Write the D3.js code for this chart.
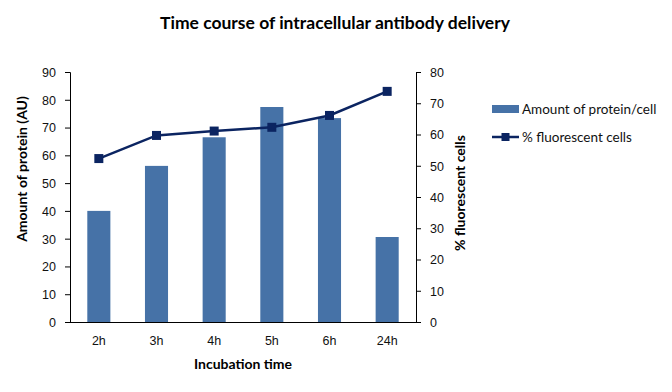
<!DOCTYPE html>
<html>
<head>
<meta charset="utf-8">
<script src="https://cdn.jsdelivr.net/npm/d3@7"></script>
<style>
  body { margin: 0; background: #fff; }
  svg { display: block; font-family: Lato, "Open Sans", sans-serif; }
  .axis path, .axis line { stroke: #000; }
  .axis text { fill: #111; font-size: 12.5px; }
</style>
</head>
<body>
<svg id="chart" width="672" height="392"></svg>
<script>
const categories = ["2h", "3h", "4h", "5h", "6h", "24h"];
const proteinAmount = [40, 56.2, 66.5, 77.4, 73.4, 30.6];
const fluorescentPct = [52.3, 59.7, 61.1, 62.3, 66.1, 73.8];
const leftTicks = [0, 10, 20, 30, 40, 50, 60, 70, 80, 90];
const rightTicks = [0, 10, 20, 30, 40, 50, 60, 70, 80];

const width = 672;
const height = 392;
const plot = { left: 70, right: 416, top: 72, bottom: 322 };
const barColor = "#4672a7";
const lineColor = "#0b2461";

const chart = d3.select("#chart");

const xScale = d3
  .scaleBand()
  .domain(categories)
  .range([plot.left, plot.right])
  .paddingInner(0.6)
  .paddingOuter(0.3);

const yLeft = d3.scaleLinear().domain([0, 90]).range([plot.bottom, plot.top]);
const yRight = d3.scaleLinear().domain([0, 80]).range([plot.bottom, plot.top]);

// bars
chart
  .selectAll("rect.bar")
  .data(proteinAmount)
  .enter()
  .append("rect")
  .attr("class", "bar")
  .attr("x", (d, i) => xScale(categories[i]))
  .attr("y", (d) => yLeft(d))
  .attr("width", xScale.bandwidth())
  .attr("height", (d) => plot.bottom - yLeft(d))
  .attr("fill", barColor);

// line + markers
const cx = (i) => xScale(categories[i]) + xScale.bandwidth() / 2;
const line = d3
  .line()
  .x((d, i) => cx(i))
  .y((d) => yRight(d));

chart
  .append("path")
  .datum(fluorescentPct)
  .attr("d", line)
  .attr("fill", "none")
  .attr("stroke", lineColor)
  .attr("stroke-width", 2.5);

chart
  .selectAll("rect.marker")
  .data(fluorescentPct)
  .enter()
  .append("rect")
  .attr("class", "marker")
  .attr("x", (d, i) => cx(i) - 4.5)
  .attr("y", (d) => yRight(d) - 4.5)
  .attr("width", 9)
  .attr("height", 9)
  .attr("fill", lineColor);

// axes
const yAxisLeft = chart
  .append("g")
  .attr("class", "axis")
  .attr("transform", `translate(${plot.left}, 0)`)
  .call(d3.axisLeft(yLeft).tickValues(leftTicks).tickSizeOuter(0).tickSize(5).tickPadding(9));

const yAxisRight = chart
  .append("g")
  .attr("class", "axis")
  .attr("transform", `translate(${plot.right}, 0)`)
  .call(d3.axisRight(yRight).tickValues(rightTicks).tickSizeOuter(0).tickSize(5).tickPadding(9));

const xAxis = chart
  .append("g")
  .attr("class", "axis")
  .attr("transform", `translate(0, ${plot.bottom})`)
  .call(d3.axisBottom(xScale).tickSize(0).tickPadding(14));

xAxis.select("path").attr("d", `M${plot.left},0.5H${plot.right}`);
[yAxisLeft, yAxisRight].forEach((a) => a.selectAll("text").attr("dy", "0.35em"));

// titles
chart
  .append("text")
  .attr("x", 335)
  .attr("y", 29)
  .attr("text-anchor", "middle")
  .attr("font-size", 17.5)
  .attr("font-weight", "bold")
  .text("Time course of intracellular antibody delivery");

chart
  .append("text")
  .attr("x", 243)
  .attr("y", 369)
  .attr("text-anchor", "middle")
  .attr("font-size", 14)
  .attr("font-weight", "bold")
  .text("Incubation time");

chart
  .append("text")
  .attr("transform", "translate(27, 169) rotate(-90)")
  .attr("text-anchor", "middle")
  .attr("font-size", 14)
  .attr("font-weight", "bold")
  .text("Amount of protein (AU)");

chart
  .append("text")
  .attr("transform", "translate(465, 193) rotate(-90)")
  .attr("text-anchor", "middle")
  .attr("font-size", 14)
  .attr("font-weight", "bold")
  .text("% fluorescent cells");

// legend
const legend = chart.append("g").attr("transform", "translate(492, 0)");
legend
  .append("rect")
  .attr("x", 0)
  .attr("y", 105)
  .attr("width", 27)
  .attr("height", 8)
  .attr("fill", barColor);
legend
  .append("text")
  .attr("x", 30)
  .attr("y", 114)
  .attr("font-size", 13.5)
  .attr("fill", "#111")
  .text("Amount of protein/cell");

legend
  .append("line")
  .attr("x1", 0)
  .attr("x2", 27)
  .attr("y1", 137)
  .attr("y2", 137)
  .attr("stroke", lineColor)
  .attr("stroke-width", 2.5);
legend
  .append("rect")
  .attr("x", 9.5)
  .attr("y", 133)
  .attr("width", 8)
  .attr("height", 8)
  .attr("fill", lineColor);
legend
  .append("text")
  .attr("x", 30)
  .attr("y", 142)
  .attr("font-size", 13.5)
  .attr("fill", "#111")
  .text("% fluorescent cells");
</script>
</body>
</html>
